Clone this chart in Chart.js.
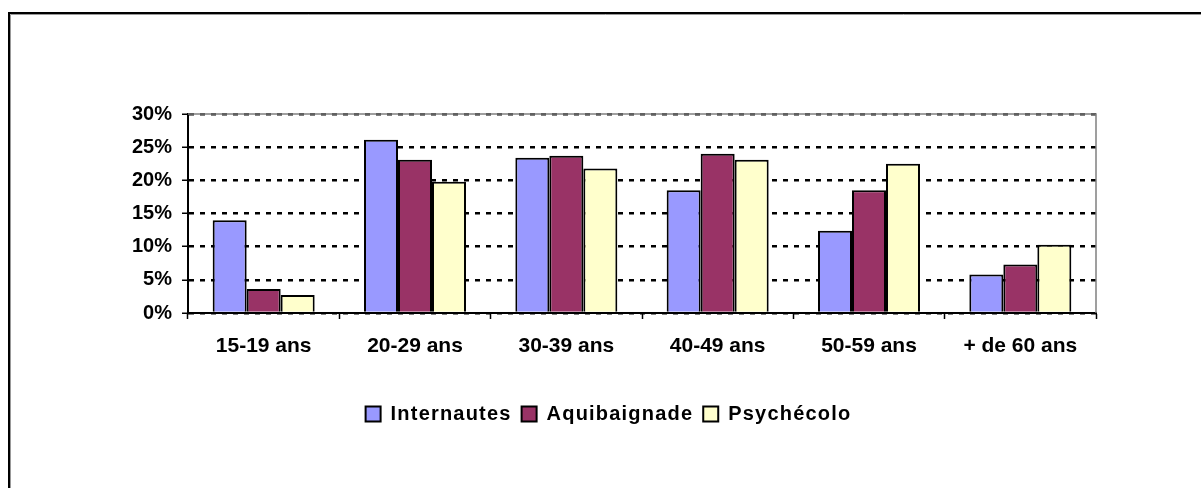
<!DOCTYPE html>
<html><head><meta charset="utf-8">
<script src="https://cdn.jsdelivr.net/npm/chart.js@4/dist/chart.umd.min.js"></script>
<style>html,body{margin:0;padding:0;background:#fff}#wrap{width:1201px;height:488px}</style>
</head><body><div id="wrap"><canvas id="c" width="1201" height="488"></canvas></div>
<script>
const categories = ['15-19 ans','20-29 ans','30-39 ans','40-49 ans','50-59 ans','+ de 60 ans'];
const internautes = [14.0, 26.1, 23.4, 18.5, 12.4, 5.8];
const aquibaignade = [3.6, 23.1, 23.7, 24.0, 18.5, 7.3];
const psychecolo = [2.7, 19.8, 21.8, 23.1, 22.5, 10.3];
const yTicks = [0,5,10,15,20,25,30];

const FONT = "'Liberation Sans', Arial, sans-serif";

const framePlugin = {
  id:'frame',
  beforeLayout(chart){
    const lg = chart.legend;
    if (lg && !lg._ls) {
      lg._ls = true;
      const of = lg.fit.bind(lg), od = lg.draw.bind(lg);
      lg.fit = function(){ const c=chart.ctx; c.save(); c.letterSpacing='1.2px'; of(); c.restore(); };
      lg.draw = function(){ const c=chart.ctx; c.save(); c.letterSpacing='1.2px'; od(); c.restore(); };
    }
  },
  beforeDatasetsDraw(chart){
    const {ctx, chartArea:a} = chart;
    ctx.save();
    ctx.strokeStyle='#808080'; ctx.lineWidth=1.5;
    ctx.beginPath(); ctx.moveTo(a.left, a.top); ctx.lineTo(a.right, a.top); ctx.lineTo(a.right, a.bottom); ctx.stroke();
    ctx.restore();
  },
  afterDraw(chart){
    const ctx = chart.ctx;
    ctx.save();
    ctx.strokeStyle='#000'; ctx.lineWidth=2;
    ctx.beginPath(); ctx.moveTo(9, 488); ctx.lineTo(9, 13); ctx.lineTo(1201, 13); ctx.stroke();
    ctx.strokeStyle='#999'; ctx.lineWidth=1;
    ctx.beginPath(); ctx.moveTo(10.5, 488); ctx.lineTo(10.5, 14.5); ctx.lineTo(1201, 14.5); ctx.stroke();
    ctx.restore();
  }
};

const chart = new Chart(document.getElementById('c'), {
  type:'bar',
  data:{
    labels: categories,
    datasets:[
      {label:'Internautes', data:internautes, backgroundColor:'#9999FF', borderColor:'#000', borderWidth:2},
      {label:'Aquibaignade', data:aquibaignade, backgroundColor:'#993366', borderColor:'#000', borderWidth:2},
      {label:'Psychécolo', data:psychecolo, backgroundColor:'#FFFFCC', borderColor:'#000', borderWidth:2}
    ]
  },
  options:{
    responsive:false, animation:false,
    layout:{padding:{left:16, right:0, top:114, bottom:54}},
    datasets:{bar:{categoryPercentage:0.674, barPercentage:1}},
    plugins:{
      tooltip:{enabled:false},
      legend:{
        position:'bottom',
        labels:{font:{family:FONT, size:20, weight:'bold'}, color:'#000', boxWidth:15, boxHeight:15, padding:10}
      }
    },
    scales:{
      x:{
        grid:{display:true, drawOnChartArea:false, drawTicks:true, tickLength:6, tickColor:'#000', tickWidth:1.5, offset:true},
        border:{display:true, color:'#000', width:2},
        ticks:{font:{family:FONT, size:21, weight:'bold'}, color:'#000', padding:15, maxRotation:0},
        afterFit(s){ s.height = 81; }
      },
      y:{
        min:0, max:30,
        afterBuildTicks(s){ s.ticks = yTicks.map(v=>({value:v})); },
        grid:{color:'#000', lineWidth:2.5, tickLength:6, tickColor:'#000', tickWidth:1.5, tickBorderDash:[]},
        border:{display:true, color:'#000', width:2, dash:[5,6]},
        ticks:{font:{family:FONT, size:20, weight:'bold'}, color:'#000', padding:10, callback:v=>v+'%'},
        afterFit(s){ s.width = 172; }
      },
      y2:{
        position:'right', display:true,
        grid:{display:false}, border:{display:false}, ticks:{display:false},
        afterFit(s){ s.width = 105; }
      }
    }
  },
  plugins:[framePlugin]
});
</script></body></html>
